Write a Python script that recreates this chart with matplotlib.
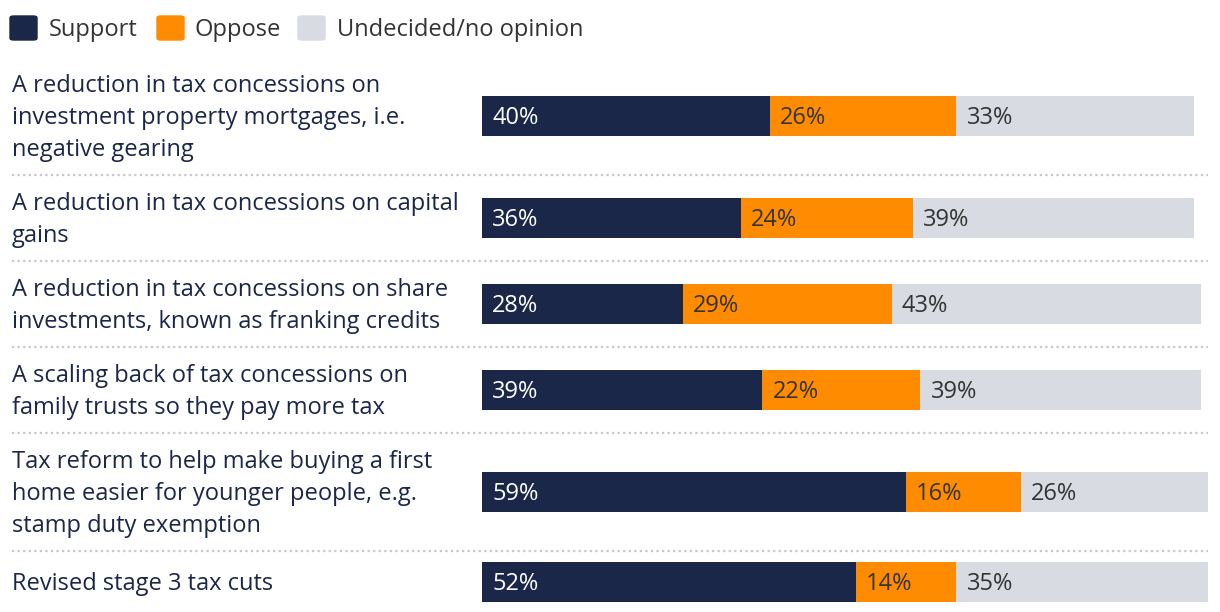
import matplotlib.pyplot as plt
import matplotlib.transforms as mtransforms
from matplotlib.patches import FancyBboxPatch
from matplotlib.lines import Line2D

plt.rcParams['font.family'] = ['Open Sans', 'DejaVu Sans']

labels = [
    "A reduction in tax concessions on\ninvestment property mortgages, i.e.\nnegative gearing",
    "A reduction in tax concessions on capital\ngains",
    "A reduction in tax concessions on share\ninvestments, known as franking credits",
    "A scaling back of tax concessions on\nfamily trusts so they pay more tax",
    "Tax reform to help make buying a first\nhome easier for younger people, e.g.\nstamp duty exemption",
    "Revised stage 3 tax cuts",
]
support = [40, 36, 28, 39, 59, 52]
oppose = [26, 24, 29, 22, 16, 14]
undecided = [33, 39, 43, 39, 26, 35]

series = ["Support", "Oppose", "Undecided/no opinion"]
colors = ["#1b2748", "#ff8c00", "#d8dbe2"]
text_colors = ["white", "#333333", "#333333"]
label_color = "#1b2748"

W, H = 1220, 612
fig = plt.figure(figsize=(W / 100, H / 100), dpi=100)
# y in pixels from the top, x in percent
ax = fig.add_axes([482 / W, 0, 726 / W, 1])
ax.set_xlim(0, 101)
ax.set_ylim(H, 0)
ax.axis('off')

line_h = 32
top = 57
centers, seps = [], []
for i, lab in enumerate(labels):
    n = lab.count("\n") + 1
    h = max(n * line_h, 40) + 22
    centers.append(top + h / 2)
    if i > 0:
        seps.append(top)
    top += h

fs = 17
dy = 2  # nudge text down a bit
trans = mtransforms.blended_transform_factory(fig.transFigure, ax.transData)
for lab, c in zip(labels, centers):
    ax.text(12 / W, c + dy, lab, transform=trans, ha='left', va='center',
            fontsize=fs, color=label_color, linespacing=1.46)

for s in seps:
    ax.add_line(Line2D([12 / W, 1208 / W], [s, s], transform=trans,
                       color="#c8c8c8", lw=1.6, ls=(0, (1, 1.5)), clip_on=False))

for c, vals in zip(centers, zip(support, oppose, undecided)):
    left = 0
    for v, col, tc in zip(vals, colors, text_colors):
        ax.barh(c, v, left=left, height=40, color=col, linewidth=0)
        ax.text(left + 1.4, c + dy, f"{v}%", ha='left', va='center',
                fontsize=fs, color=tc)
        left += v

# legend
box_x = [10, 157, 298]
text_x = [49, 195, 337]
for bx, tx, name, col in zip(box_x, text_x, series, colors):
    fig.patches.append(FancyBboxPatch((bx / W, 1 - 40 / H), 27 / W, 24 / H,
                                      boxstyle="round,pad=0,rounding_size=0.003",
                                      transform=fig.transFigure, color=col))
    fig.text(tx / W, 1 - 30 / H, name, ha='left', va='center',
             fontsize=fs, color="#333333")

fig.savefig("out.png", dpi=100)
